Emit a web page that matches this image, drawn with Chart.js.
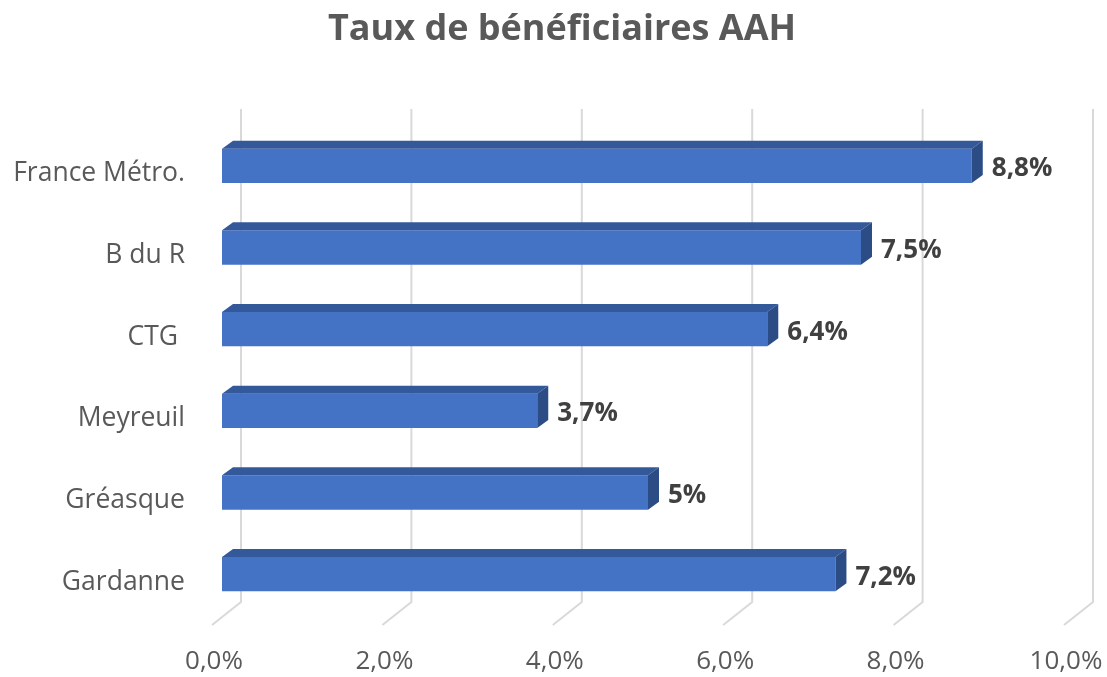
<!DOCTYPE html>
<html lang="fr">
<head>
<meta charset="utf-8">
<title>Taux de bénéficiaires AAH</title>
<script src="https://cdn.jsdelivr.net/npm/chart.js@4/dist/chart.umd.min.js"></script>
<style>
  html, body { margin: 0; padding: 0; background: #fff; }
  #wrap { width: 1107px; height: 677px; }
</style>
</head>
<body>
<div id="wrap"><canvas id="aahChart" width="1107" height="677"></canvas></div>
<script>
const communes = ['France Métro.', 'B du R', 'CTG ', 'Meyreuil', 'Gréasque', 'Gardanne'];
const tauxAAH = [8.8, 7.5, 6.4, 3.7, 5, 7.2];
const axeMax = 10;
const axePas = 2;
const titre = 'Taux de bénéficiaires AAH';

const FONT = "'Open Sans', Lato, sans-serif";
const DEPTH_X = 11;
const DEPTH_Y = 8;

const pct = (v, dec) => (dec ? v.toFixed(dec) : String(v)).replace('.', ',') + '%';

// title drawn by hand so it can sit off the plot centre
const titrePlugin = {
  id: 'titrePlugin',
  afterDraw(chart) {
    const { ctx } = chart;
    ctx.save();
    ctx.fillStyle = '#595959';
    ctx.font = 'bold 36px ' + FONT;
    ctx.textAlign = 'center';
    ctx.textBaseline = 'middle';
    ctx.fillText(titre, 562, 30);
    ctx.restore();
  }
};

// perspective grid: back wall lines plus the floor diagonals
const grille3d = {
  id: 'grille3d',
  beforeDatasetsDraw(chart) {
    const { ctx, scales: { x } } = chart;
    ctx.save();
    ctx.strokeStyle = '#d9d9d9';
    ctx.lineWidth = 2;
    for (let v = 0; v <= axeMax; v += axePas) {
      const px = x.getPixelForValue(v);
      ctx.beginPath();
      ctx.moveTo(px + 19, 109);
      ctx.lineTo(px + 19, 602);
      ctx.lineTo(px - 10, 625);
      ctx.stroke();
    }
    ctx.restore();
  }
};

// top and end faces of each bar, then the value label
const barres3d = {
  id: 'barres3d',
  afterDatasetsDraw(chart) {
    const { ctx } = chart;
    const meta = chart.getDatasetMeta(0);
    ctx.save();
    meta.data.forEach((bar, i) => {
      const top = bar.y - bar.height / 2;
      const bottom = bar.y + bar.height / 2;
      const x0 = bar.base;
      const x1 = bar.x;

      ctx.fillStyle = '#34599b';
      ctx.beginPath();
      ctx.moveTo(x0, top);
      ctx.lineTo(x0 + DEPTH_X, top - DEPTH_Y);
      ctx.lineTo(x1 + DEPTH_X, top - DEPTH_Y);
      ctx.lineTo(x1, top);
      ctx.closePath();
      ctx.fill();

      ctx.fillStyle = '#2c4c86';
      ctx.beginPath();
      ctx.moveTo(x1, top);
      ctx.lineTo(x1 + DEPTH_X, top - DEPTH_Y);
      ctx.lineTo(x1 + DEPTH_X, bottom - DEPTH_Y);
      ctx.lineTo(x1, bottom);
      ctx.closePath();
      ctx.fill();

      ctx.fillStyle = '#404040';
      ctx.font = 'bold 26px ' + FONT;
      ctx.textAlign = 'left';
      ctx.textBaseline = 'middle';
      ctx.fillText(pct(tauxAAH[i]), x1 + 20, bar.y + 3);
    });
    ctx.restore();
  }
};

new Chart(document.getElementById('aahChart'), {
  type: 'bar',
  data: {
    labels: communes,
    datasets: [{
      data: tauxAAH,
      backgroundColor: '#4472c4',
      borderWidth: 0,
      barPercentage: 0.84,
      categoryPercentage: 0.5
    }]
  },
  options: {
    indexAxis: 'y',
    responsive: false,
    animation: false,
    layout: { padding: { left: 0, right: 33, top: 125, bottom: 0 } },
    plugins: {
      legend: { display: false },
      tooltip: { enabled: false },
      title: { display: false }
    },
    scales: {
      x: {
        min: 0,
        max: axeMax,
        grid: { display: false, drawTicks: false },
        border: { display: false },
        ticks: {
          stepSize: axePas,
          padding: 31,
          labelOffset: -8,
          color: '#595959',
          font: { family: FONT, size: 26 },
          callback: v => pct(v, 1)
        },
        afterFit(scale) {
          scale.height = 62;
          scale.paddingLeft = 0;
          scale.paddingRight = 0;
        }
      },
      y: {
        grid: { display: false, drawTicks: false },
        border: { display: false },
        ticks: {
          padding: 37,
          labelOffset: 8,
          color: '#595959',
          font: { family: FONT, size: 26.5 }
        },
        afterFit(scale) {
          scale.width = 222;
          scale.paddingTop = 0;
          scale.paddingBottom = 0;
        }
      }
    }
  },
  plugins: [grille3d, barres3d, titrePlugin]
});
</script>
</body>
</html>
